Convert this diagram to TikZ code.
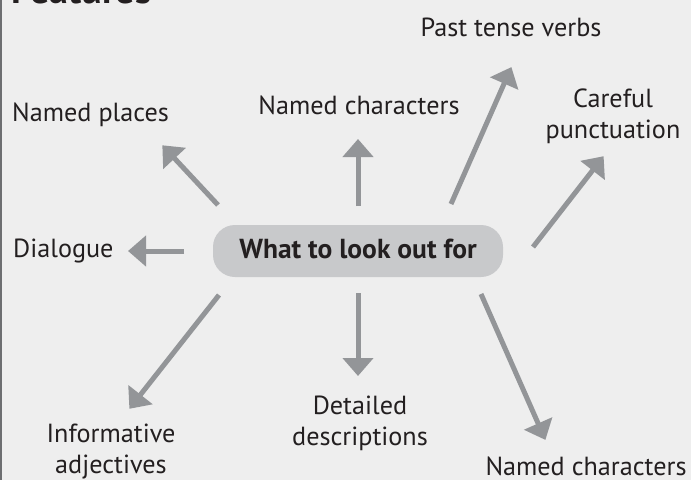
\documentclass[tikz,border=0pt]{standalone}
\usepackage{fontspec}
\setmainfont{PT Sans}
\usetikzlibrary{arrows.meta}
\definecolor{bgc}{HTML}{EEEEEE}
\definecolor{boxc}{HTML}{C8C9CB}
\definecolor{arrc}{HTML}{939598}
\definecolor{txtc}{HTML}{231F20}
\definecolor{edgec}{HTML}{6D6E71}
\tikzset{
  lbl/.style={inner sep=0pt, text=txtc, font=\fontsize{26.2}{30.8}\selectfont, align=center},
  spoke/.style={draw=arrc, line width=5pt, -{Triangle[width=30pt,length=18pt]}, shorten >=-1pt},
  hub/.style={fill=boxc, rounded corners=22pt, minimum width=290pt, minimum height=52pt, inner sep=0pt}
}
\begin{document}
\begin{tikzpicture}[x=1pt,y=-1pt]
\fill[bgc] (0,0) rectangle (691,480);
\useasboundingbox (0,0) rectangle (691,480);
\draw[edgec, line width=2pt] (1,0) -- (1,480);
\node[anchor=base west, inner sep=0pt, text=txtc, font=\fontsize{38}{44}\selectfont\bfseries] (title) at (11,3.5) {Features};

\node[hub] (hub) at (358,251) {};
\node[anchor=base, inner sep=0pt, text=txtc, font=\fontsize{27.5}{32}\selectfont\bfseries] (hubtext) at (358,258) {What to look out for};

\node[lbl, anchor=base] (past) at (511,36) {Past tense verbs};
\node[lbl, anchor=base] (careful) at (613,138) {Careful\\punctuation};
\node[lbl, anchor=base] (namedc) at (359,114) {Named characters};
\node[lbl, anchor=base west] (places) at (12,121) {Named places};
\node[lbl, anchor=base west] (dialogue) at (13,257) {Dialogue};
\node[lbl, anchor=base] (inform) at (111,473) {Informative\\adjectives};
\node[lbl, anchor=base] (detail) at (360,445) {Detailed\\descriptions};
\node[lbl, anchor=base] (namedb) at (586,475) {Named characters};

\coordinate (s1) at (218,205); \coordinate (t1) at (163,146);
\coordinate (s2) at (358,206); \coordinate (t2) at (358,140);
\coordinate (s3) at (184,251); \coordinate (t3) at (129,251);
\coordinate (s4) at (451,204); \coordinate (t4) at (511,68);
\coordinate (s5) at (533,247); \coordinate (t5) at (603,157);
\coordinate (s6) at (219,295); \coordinate (t6) at (130,408);
\coordinate (s7) at (358,293); \coordinate (t7) at (358,375);
\coordinate (s8) at (481,294); \coordinate (t8) at (545,439);

\foreach \i in {1,...,8} { \draw[spoke] (s\i) -- (t\i); }
\end{tikzpicture}
\end{document}
